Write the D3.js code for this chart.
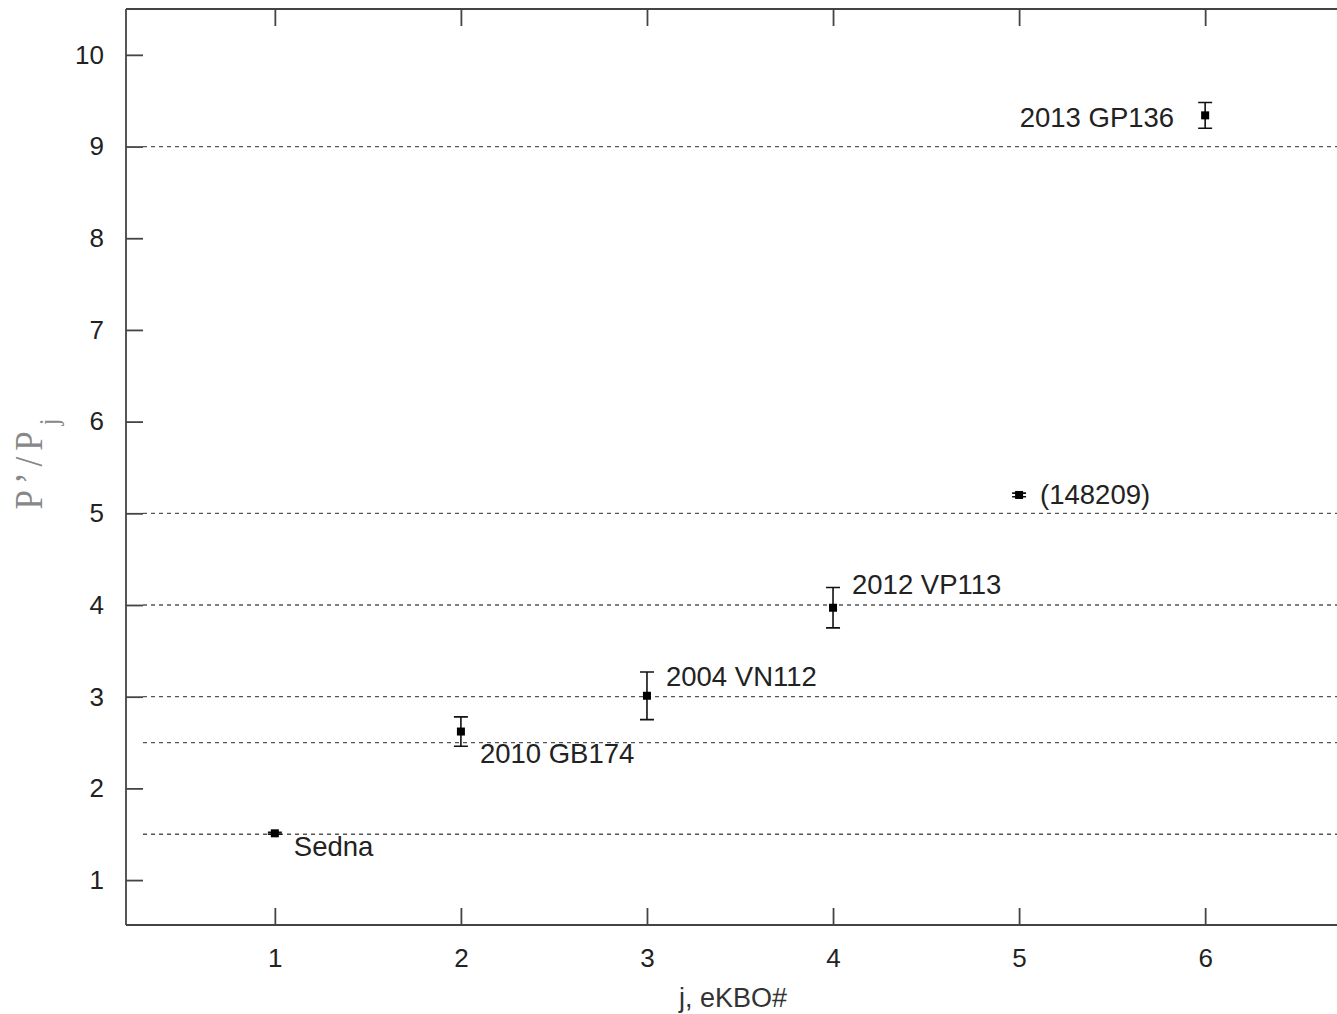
<!DOCTYPE html>
<html><head><meta charset="utf-8">
<script src="https://cdn.jsdelivr.net/npm/d3@7"></script>
<style>html,body{margin:0;padding:0;background:#fff;overflow:hidden}</style>
</head><body>
<svg id="c" width="1337" height="1014"></svg>
<script>
const objects = ["Sedna","2010 GB174","2004 VN112","2012 VP113","(148209)","2013 GP136"];
const jIndex = [1,2,3,4,5,6];
const ratio = [1.51,2.62,3.01,3.97,5.20,9.34];
const ratioErr = [0.01,0.16,0.26,0.22,0.02,0.14];
const resonanceLines = [1.5,2.5,3,4,5,9];
const xTicks = [1,2,3,4,5,6];
const yTicks = [1,2,3,4,5,6,7,8,9,10];

const svg = d3.select("#c");
const L=126, R=1354, T=9, B=925;
const x = d3.scaleLinear().domain([0.2,6.8]).range([L,R]);
const y = d3.scaleLinear().domain([0.51,10.5]).range([B,T]);
const axCol="#444", txtCol="#222", font="'Liberation Sans', Arial, sans-serif";

// dashed resonance lines
svg.append("g").selectAll("line").data(resonanceLines).join("line")
  .attr("x1",L+17).attr("x2",R).attr("y1",d=>y(d)).attr("y2",d=>y(d))
  .attr("stroke","#555").attr("stroke-width",1.3).attr("stroke-dasharray","4,4");

// axes
const tl=-17;
const fmt=d3.format("d");
const gB = svg.append("g").attr("transform",`translate(0,${B})`)
  .call(d3.axisBottom(x).tickValues(xTicks).tickFormat(fmt).tickSize(tl).tickPadding(24).tickSizeOuter(0));
const gT = svg.append("g").attr("transform",`translate(0,${T})`)
  .call(d3.axisTop(x).tickValues(xTicks).tickSize(tl).tickFormat("").tickSizeOuter(0));
const gL = svg.append("g").attr("transform",`translate(${L},0)`)
  .call(d3.axisLeft(y).tickValues(yTicks).tickFormat(fmt).tickSize(tl).tickPadding(22).tickSizeOuter(0));
const gR = svg.append("g").attr("transform",`translate(${R},0)`)
  .call(d3.axisRight(y).tickValues(yTicks).tickSize(tl).tickFormat("").tickSizeOuter(0));
[gB,gT,gL,gR].forEach(g=>{
  g.attr("font-size",26).attr("font-family",font);
  g.select(".domain").attr("stroke",axCol).attr("stroke-width",1.8);
  g.selectAll(".tick line").attr("stroke",axCol).attr("stroke-width",1.8);
  g.selectAll(".tick text").attr("fill",txtCol);
});
gB.select(".domain").attr("d",`M${L},0H${R}`);
gT.select(".domain").attr("d",`M${L},0H${R}`);
gL.select(".domain").attr("d",`M0,${T}V${B}`);

// data
const data = jIndex.map((j,i)=>({j, v:ratio[i], e:ratioErr[i], name:objects[i]}));
const pts = svg.append("g");
const cap=7;
pts.selectAll("path.err").data(data).join("path").attr("class","err")
  .attr("d",d=>`M${x(d.j)},${y(d.v+d.e)}V${y(d.v-d.e)}M${x(d.j)-cap},${y(d.v+d.e)}h${2*cap}M${x(d.j)-cap},${y(d.v-d.e)}h${2*cap}`)
  .attr("stroke","#111").attr("stroke-width",1.6).attr("fill","none");
pts.selectAll("rect").data(data).join("rect")
  .attr("x",d=>x(d.j)-4).attr("y",d=>y(d.v)-4).attr("width",8).attr("height",8).attr("fill","#000");

// labels
const labOff = [{dx:19,dy:23,a:"start"},{dx:19,dy:31,a:"start"},{dx:19,dy:-10,a:"start"},{dx:19,dy:-14,a:"start"},{dx:21,dy:9,a:"start"},{dx:-31,dy:12,a:"end"}];
svg.append("g").selectAll("text").data(data).join("text")
  .attr("x",(d,i)=>x(d.j)+labOff[i].dx).attr("y",(d,i)=>y(d.v)+labOff[i].dy)
  .attr("text-anchor",(d,i)=>labOff[i].a)
  .attr("font-family",font).attr("font-size",27.5).attr("fill",txtCol)
  .text(d=>d.name);

// axis titles
svg.append("text").attr("x",733).attr("y",1007).attr("text-anchor","middle")
  .attr("font-family",font).attr("font-size",27).attr("fill","#333").text("j, eKBO#");
const yl = svg.append("text").attr("transform",`translate(42,461) rotate(-90) scale(1,1.15)`)
  .attr("text-anchor","middle").attr("font-family","'Liberation Serif', 'DejaVu Serif', serif")
  .attr("font-size",35).attr("fill","#888").attr("letter-spacing",6);
yl.append("tspan").text("P’/P");
yl.append("tspan").attr("baseline-shift","sub").attr("font-size",24).text("j");
</script>
</body></html>
